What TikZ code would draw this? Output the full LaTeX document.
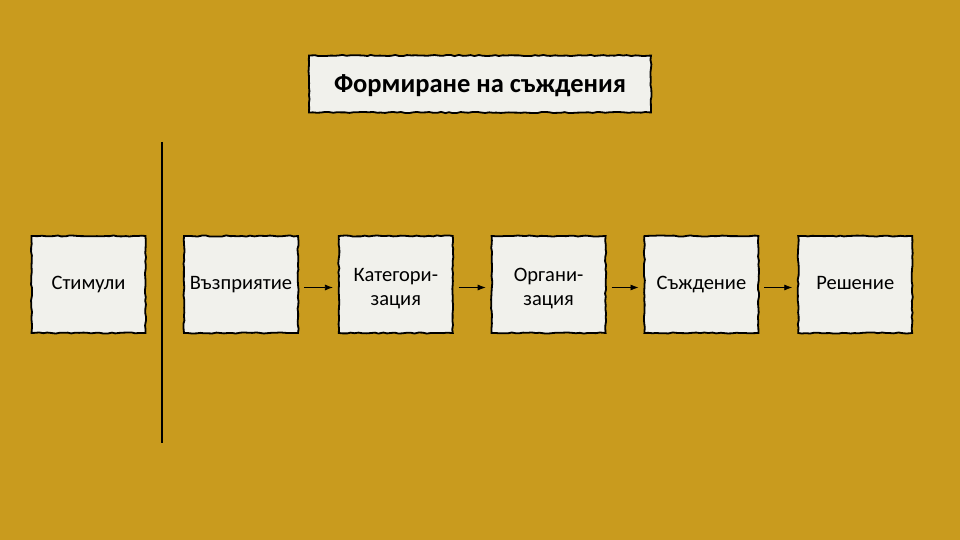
\documentclass[tikz,border=0pt]{standalone}
\usepackage{fontspec}
\setmainfont{Carlito}
\usetikzlibrary{positioning,decorations.pathmorphing,arrows.meta}
\definecolor{gold}{RGB}{201,155,30}
\definecolor{paper}{RGB}{241,241,236}
\newcommand{\lowstrut}{\rule{0pt}{26pt}}
\tikzset{
  rough/.style={decorate, decoration={random steps, segment length=4pt, amplitude=0.6pt}},
  stagebox/.style={draw=black, line width=1.8pt, fill=paper, rough, minimum width=114pt, minimum height=97pt,
    inner sep=0pt, align=center, font=\fontsize{20.5}{24}\selectfont},
  titlebox/.style={draw=black, line width=1.8pt, fill=paper, rough, minimum width=342pt, minimum height=57pt,
    inner sep=0pt, text depth=0pt, font=\bfseries\fontsize{26.5}{30}\selectfont},
  flow/.style={-{Latex[length=8pt, width=6pt]}, line width=0.8pt}
}
\begin{document}
\begin{tikzpicture}[x=1pt, y=-1pt]
	\pgfmathsetseed{7}
	\fill[gold] (0, 0) rectangle (960, 540);
	\useasboundingbox (0, 0) rectangle (960, 540);

	\node[titlebox] (title) at (480, 84) {Формиране на съждения};

	\node[stagebox] (stim) at (88.5, 284.5) {\strut Стимули\strut};
	\node[stagebox] (perc) at (241, 284.5) {\strut Възприятие\strut};
	\node[stagebox, right=39pt of perc] (cat) {\lowstrut Категори-\\зация\strut};
	\node[stagebox, right=37pt of cat] (org) {\lowstrut Органи-\\зация\strut};
	\node[stagebox, right=37pt of org] (judg) {\strut Съждение\strut};
	\node[stagebox, right=38pt of judg] (dec) {\strut Решение\strut};

	\coordinate (top) at (162, 142);
	\coordinate (bot) at (162, 443);
	\draw[line width=1.2pt] (top) -- (bot);

	\foreach \a/\b in {perc/cat, cat/org, org/judg, judg/dec} {
		\draw[flow] ([xshift=5pt, yshift=-3pt]\a.east) -- ([xshift=-5pt, yshift=-3pt]\b.west);
	}
\end{tikzpicture}
\end{document}
